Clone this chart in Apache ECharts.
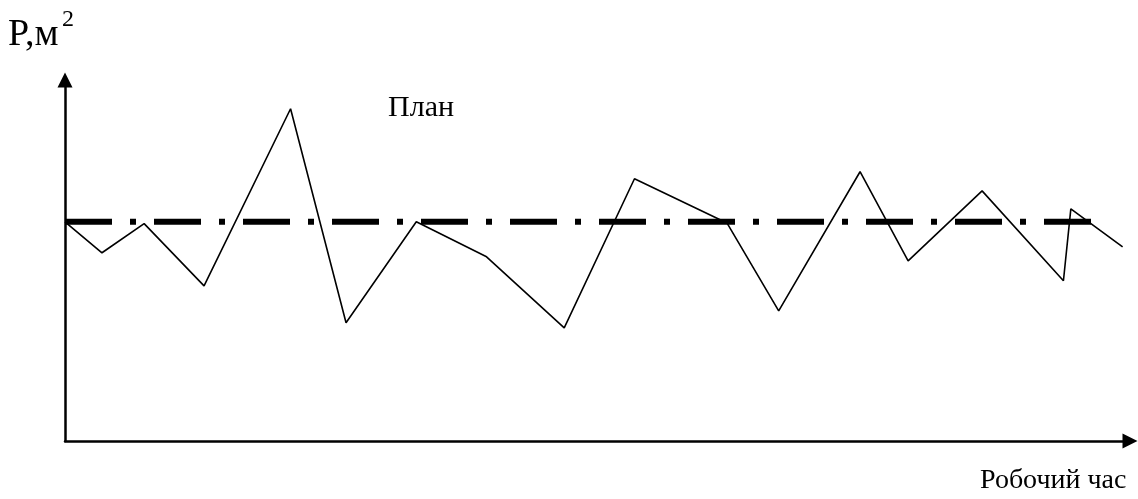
<!DOCTYPE html>
<html>
<head>
<meta charset="UTF-8">
<title>План</title>
<script src="https://cdn.jsdelivr.net/npm/echarts@6/dist/echarts.min.js"></script>
<style>
  html, body { margin: 0; padding: 0; background: #fff; }
  #main { width: 1138px; height: 499px; }
</style>
</head>
<body>
<div id="main"></div>
<script type="text/javascript">
    // робочий час (умовні одиниці) та площа P
    var hours = [0, 1.0, 2.14, 3.76, 6.1, 7.6, 9.5, 11.4, 13.5, 15.4, 17.9, 19.3, 21.5, 22.8, 24.8, 27.0, 27.2, 28.6];
    var area  = [59.5, 51.1, 59.0, 42.1, 90.2, 32.1, 59.5, 50.0, 30.7, 71.2, 59.2, 35.3, 73.1, 48.9, 67.9, 43.5, 63.0, 52.7];
    // плановий рівень
    var planHours = [0, 28.0];
    var planValue = [59.5, 59.5];

    var fact = hours.map(function (h, i) { return [h, area[i]]; });
    var plan = planHours.map(function (h, i) { return [h, planValue[i]]; });

    var myChart = echarts.init(document.getElementById('main'));
    var serif = '"Liberation Serif", "DejaVu Serif", serif';

    var axisCommon = {
        type: 'value',
        axisLine: {
            show: true,
            symbol: ['none', 'triangle'],
            symbolSize: [15, 15],
            lineStyle: { color: '#000', width: 2.5 }
        },
        axisTick: { show: false },
        axisLabel: { show: false },
        splitLine: { show: false }
    };

    var option = {
        backgroundColor: '#fff',
        animation: false,
        grid: { left: 65, right: 8, top: 80, bottom: 58 },
        xAxis: Object.assign({}, axisCommon, { min: 0, max: 28.8 }),
        yAxis: Object.assign({}, axisCommon, { min: 0, max: 98 }),
        graphic: [
            { type: 'text', left: 8, top: 16, style: { text: 'P,м', font: '38px ' + serif, fill: '#000' } },
            { type: 'text', left: 62, top: 8, style: { text: '2', font: '24px ' + serif, fill: '#000' } },
            { type: 'text', left: 388, top: 93, style: { text: 'План', font: '30px ' + serif, fill: '#000' } },
            { type: 'text', left: 980, top: 467, style: { text: 'Робочий час', font: '28px ' + serif, fill: '#000' } }
        ],
        series: [
            {
                name: 'План',
                type: 'line',
                data: plan,
                symbol: 'none',
                lineStyle: { color: '#000', width: 6, type: [47, 18, 6, 18], cap: 'butt' },
                z: 2
            },
            {
                name: 'Факт',
                type: 'line',
                data: fact,
                symbol: 'none',
                lineStyle: { color: '#000', width: 1.6 },
                z: 3
            }
        ]
    };

    myChart.setOption(option);
</script>
</body>
</html>
